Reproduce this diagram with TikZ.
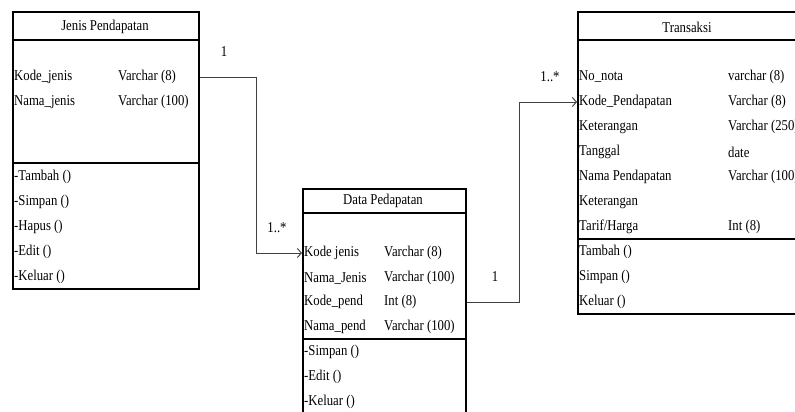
\documentclass[tikz,border=0pt]{standalone}
\usepackage{fontspec}
\setmainfont{Liberation Serif}[FakeStretch=0.85]
\usetikzlibrary{arrows.meta}
\begin{document}
\begin{tikzpicture}[x=1pt,y=-1pt,
  box/.style={draw=black, line width=1.6pt, anchor=north west, inner sep=0pt},
  sep/.style={draw=black, line width=1.6pt},
  txt/.style={anchor=west, inner sep=0pt, font=\fontsize{15}{17}\selectfont},
  ttl/.style={anchor=center, inner sep=0pt, font=\fontsize{15}{17}\selectfont},
  conn/.style={draw=black!75, line width=0.9pt},
  arr/.style={-{Straight Barb[length=4pt,width=9pt,line width=0.9pt]}}]
\clip (0,0) rectangle (795,412);
\fill[white] (0,0) rectangle (795,412);

% Jenis Pendapatan
\node[box, minimum width=186pt, minimum height=277pt] (jenis) at (12,11) {};
\draw[sep] (12,40) -- (198,40);
\draw[sep] (12,163) -- (198,163);
\node[ttl] (jt) at (105,27) {Jenis Pendapatan};
\node[txt] (jkj) at (14,77) {Kode\_jenis};
\node[txt] (jkjt) at (118,77) {Varchar (8)};
\node[txt] (jnj) at (14,102) {Nama\_jenis};
\node[txt] (jnjt) at (118,102) {Varchar (100)};
\node[txt] (jm1) at (14,177) {-Tambah ()};
\node[txt] (jm2) at (14,202) {-Simpan ()};
\node[txt] (jm3) at (14,227) {-Hapus ()};
\node[txt] (jm4) at (14,252) {-Edit ()};
\node[txt] (jm5) at (14,277) {-Keluar ()};

% Data Pedapatan
\node[box, minimum width=163pt, minimum height=250pt] (datap) at (302,188) {};
\draw[sep] (302,213) -- (465,213);
\draw[sep] (302,339) -- (465,339);
\node[ttl] (dt) at (383,201) {Data Pedapatan};
\node[txt] (dkj) at (304,253) {Kode jenis};
\node[txt] (dkjt) at (384,253) {Varchar (8)};
\node[txt] (dnj) at (304,278) {Nama\_Jenis};
\node[txt] (dnjt) at (384,278) {Varchar (100)};
\node[txt] (dkp) at (304,302) {Kode\_pend};
\node[txt] (dkpt) at (384,302) {Int (8)};
\node[txt] (dnp) at (304,327) {Nama\_pend};
\node[txt] (dnpt) at (384,327) {Varchar (100)};
\node[txt] (dm1) at (304,352) {-Simpan ()};
\node[txt] (dm2) at (304,377) {-Edit ()};
\node[txt] (dm3) at (304,402) {-Keluar ()};

% Transaksi
\node[box, minimum width=225pt, minimum height=302pt] (trans) at (577,11) {};
\draw[sep] (577,40) -- (802,40);
\draw[sep] (577,239) -- (802,239);
\node[ttl] (tt) at (687,27) {Transaksi};
\node[txt] (t1) at (579,77) {No\_nota};
\node[txt] (t1t) at (728,77) {varchar (8)};
\node[txt] (t2) at (579,102) {Kode\_Pendapatan};
\node[txt] (t2t) at (728,102) {Varchar (8)};
\node[txt] (t3) at (579,127) {Keterangan};
\node[txt] (t3t) at (728,127) {Varchar (250)};
\node[txt] (t4) at (579,152) {Tanggal};
\node[txt] (t4t) at (728,152) {date};
\node[txt] (t5) at (579,177) {Nama Pendapatan};
\node[txt] (t5t) at (728,177) {Varchar (100)};
\node[txt] (t6) at (579,202) {Keterangan};
\node[txt] (t7) at (579,227) {Tarif/Harga};
\node[txt] (t7t) at (728,227) {Int (8)};
\node[txt] (tm1) at (579,252) {Tambah ()};
\node[txt] (tm2) at (579,277) {Simpan ()};
\node[txt] (tm3) at (579,302) {Keluar ()};

% connectors
\draw[conn, arr] (jenis.east |- jkj) -- ++(57,0) |- (datap.west |- dkj);
\draw[conn, arr] (datap.east |- dkp) -- ++(53,0) |- (trans.west |- t2);

% multiplicities
\node[ttl] (m1) at (224,52) {1};
\node[ttl] (m2) at (277,228) {1..*};
\node[ttl] (m3) at (495,277) {1};
\node[ttl] (m4) at (550,77) {1..*};
\end{tikzpicture}
\end{document}
